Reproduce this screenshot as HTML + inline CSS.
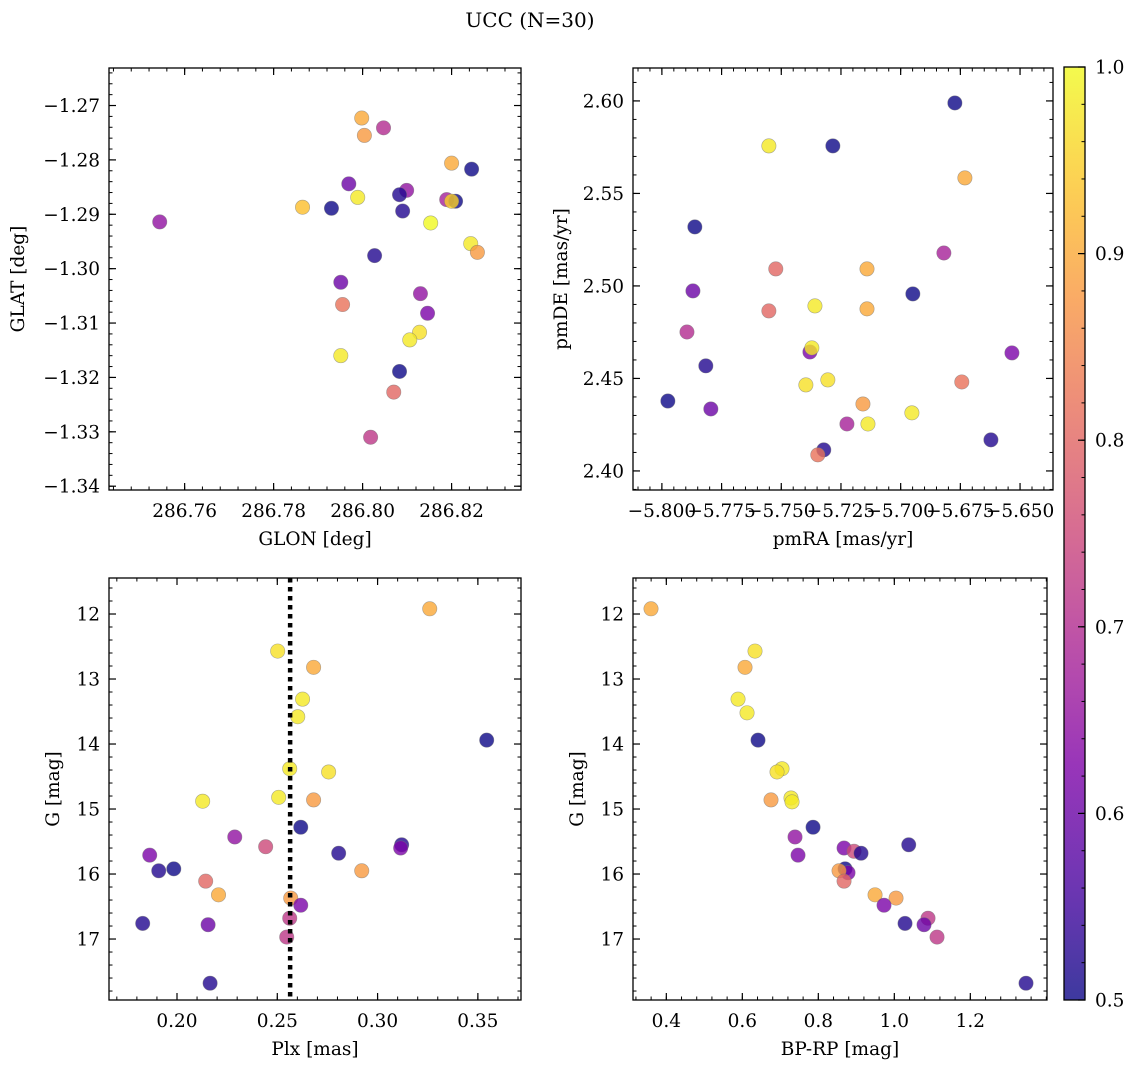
<!DOCTYPE html>
<html><head><meta charset="utf-8">
<style>
html,body{margin:0;padding:0;background:#fff;}
svg{display:block;font-family:"DejaVu Serif","Liberation Serif",serif;}
</style></head>
<body>
<svg id="fig" width="1136" height="1067" viewBox="0 0 1136 1067" xmlns="http://www.w3.org/2000/svg">
<text x="530" y="27" font-size="20" text-anchor="middle">UCC (N=30)</text>
</svg>
<script>
// Panel 1: GLON vs GLAT
const p1x=[286.7544,286.7998,286.8004,286.8047,286.8200,286.8245,286.7969,286.8099,286.8083,286.7865,286.7930,286.7989,286.8090,286.8189,286.8209,286.8200,286.8153,286.8243,286.8258,286.8027,286.7951,286.7955,286.8130,286.8146,286.8128,286.8106,286.7951,286.8083,286.8070,286.8018];
const p1y=[-1.2914,-1.2723,-1.2755,-1.2741,-1.2806,-1.2817,-1.2844,-1.2856,-1.2864,-1.2887,-1.2889,-1.2869,-1.2894,-1.2873,-1.2876,-1.2876,-1.2916,-1.2954,-1.2970,-1.2976,-1.3025,-1.3066,-1.3046,-1.3082,-1.3117,-1.3131,-1.3160,-1.3189,-1.3227,-1.3310];
const p1c=[0.65,0.9,0.88,0.7,0.9,0.5,0.6,0.65,0.52,0.93,0.5,0.98,0.52,0.68,0.5,0.95,1.0,0.98,0.88,0.52,0.6,0.82,0.65,0.62,0.97,0.98,0.98,0.5,0.8,0.72];
// Panel 2: pmRA vs pmDE
const p2x=[-5.6773,-5.7552,-5.7284,-5.6731,-5.7862,-5.7523,-5.7141,-5.6819,-5.7870,-5.6949,-5.7359,-5.7141,-5.7552,-5.7895,-5.6534,-5.7380,-5.7372,-5.7816,-5.7305,-5.7397,-5.6744,-5.7975,-5.7795,-5.7158,-5.6953,-5.6622,-5.7225,-5.7137,-5.7322,-5.7347];
const p2y=[2.5989,2.5757,2.5757,2.5584,2.5319,2.5092,2.5092,2.5178,2.4973,2.4957,2.4892,2.4876,2.4865,2.4751,2.4638,2.4643,2.4665,2.4568,2.4492,2.4465,2.4481,2.4378,2.4335,2.4362,2.4314,2.4168,2.4254,2.4254,2.4114,2.4087];
const p2c=[0.5,0.98,0.5,0.9,0.5,0.8,0.9,0.68,0.6,0.5,0.98,0.9,0.8,0.7,0.62,0.62,0.98,0.52,0.97,0.97,0.82,0.5,0.6,0.88,0.98,0.52,0.68,0.98,0.52,0.82];
// Panel 3: Plx vs G
const p3x=[0.3260,0.2502,0.2681,0.2626,0.2602,0.3544,0.2562,0.2756,0.2128,0.2507,0.2681,0.2288,0.2442,0.3120,0.3115,0.2617,0.2806,0.1864,0.1984,0.1909,0.2921,0.2143,0.2207,0.2567,0.2617,0.2562,0.1829,0.2155,0.2547,0.2165];
const p3y=[11.92,12.57,12.82,13.31,13.58,13.94,14.38,14.43,14.88,14.82,14.86,15.43,15.58,15.55,15.60,15.28,15.68,15.71,15.92,15.95,15.95,16.11,16.32,16.37,16.48,16.68,16.76,16.78,16.97,17.68];
const p3c=[0.9,0.97,0.9,0.98,0.98,0.5,0.98,0.97,0.98,0.98,0.88,0.65,0.75,0.52,0.62,0.5,0.52,0.62,0.5,0.52,0.88,0.8,0.9,0.88,0.62,0.72,0.52,0.6,0.72,0.52];
// Panel 4: BP-RP vs G
const p4x=[0.3597,0.6334,0.6071,0.5887,0.6124,0.6413,0.7045,0.6913,0.7281,0.7308,0.6755,0.7861,0.7387,1.0379,0.8677,0.8940,0.9124,0.7466,0.8704,0.8782,0.8545,0.8677,0.9493,1.0045,0.9729,1.0887,1.0282,1.0782,1.1124,1.3466];
const p4y=[11.92,12.57,12.82,13.31,13.52,13.94,14.38,14.43,14.83,14.89,14.86,15.28,15.43,15.55,15.60,15.65,15.68,15.71,15.92,15.98,15.95,16.11,16.32,16.37,16.48,16.68,16.76,16.78,16.97,17.68];
const p4c=[0.9,0.97,0.9,0.98,0.98,0.5,0.98,0.97,0.98,0.98,0.88,0.5,0.65,0.52,0.62,0.75,0.52,0.62,0.5,0.62,0.88,0.8,0.9,0.88,0.62,0.72,0.52,0.6,0.72,0.52];
const plxRef=[0.2564];
const cbTicks=[0.5,0.6,0.7,0.8,0.9,1.0];

const NS="http://www.w3.org/2000/svg";
const svg=document.getElementById('fig');
const FS=18.5;
function mk(tag,attrs,parent){const e=document.createElementNS(NS,tag);for(const k in attrs)e.setAttribute(k,attrs[k]);(parent||svg).appendChild(e);return e;}
const stops=[[0,[13,8,135]],[0.125,[75,3,161]],[0.25,[126,3,168]],[0.375,[170,35,149]],[0.5,[204,71,120]],[0.625,[230,108,92]],[0.75,[248,149,64]],[0.875,[253,196,39]],[1,[240,249,33]]];
function plasma(t){t=Math.max(0,Math.min(1,t));for(let i=1;i<stops.length;i++){if(t<=stops[i][0]){const a=stops[i-1],b=stops[i];const f=(t-a[0])/(b[0]-a[0]);return 'rgb('+a[1].map((v,j)=>Math.round(v+(b[1][j]-v)*f)).join(',')+')';}}return 'rgb(240,249,33)';}
function cnorm(v){return (v-0.5)/0.5;}

function panel(cfg){
  const g=mk('g',{});
  
  
  const {L,R,T,B}=cfg;
  const sx=v=>L+(v-cfg.x0)/(cfg.x1-cfg.x0)*(R-L);
  const sy=v=>cfg.yinv? T+(v-cfg.y0)/(cfg.y1-cfg.y0)*(B-T) : B-(v-cfg.y0)/(cfg.y1-cfg.y0)*(B-T);
  const eps=1e-9;
  for(let v=Math.ceil(cfg.x0/cfg.xmin-eps)*cfg.xmin; v<=cfg.x1+eps; v+=cfg.xmin){const x=sx(v);mk('line',{x1:x,x2:x,y1:B,y2:B-3.5,stroke:'#000','stroke-width':1},g);mk('line',{x1:x,x2:x,y1:T,y2:T+3.5,stroke:'#000','stroke-width':1},g);}
  const ylo=Math.min(cfg.y0,cfg.y1),yhi=Math.max(cfg.y0,cfg.y1);
  for(let v=Math.ceil(ylo/cfg.ymin-eps)*cfg.ymin; v<=yhi+eps; v+=cfg.ymin){const y=sy(v);mk('line',{x1:L,x2:L+3.5,y1:y,y2:y,stroke:'#000','stroke-width':1},g);mk('line',{x1:R,x2:R-3.5,y1:y,y2:y,stroke:'#000','stroke-width':1},g);}
  cfg.xt.forEach((v,i)=>{const x=sx(v);mk('line',{x1:x,x2:x,y1:B,y2:B-7,stroke:'#000','stroke-width':1.2},g);mk('line',{x1:x,x2:x,y1:T,y2:T+7,stroke:'#000','stroke-width':1.2},g);
    const t=mk('text',{x:x,y:B+27,'font-size':FS,'text-anchor':'middle'},g);t.textContent=cfg.xl[i];
    
    });
  cfg.yt.forEach((v,i)=>{const y=sy(v);mk('line',{x1:L,x2:L+7,y1:y,y2:y,stroke:'#000','stroke-width':1.2},g);mk('line',{x1:R,x2:R-7,y1:y,y2:y,stroke:'#000','stroke-width':1.2},g);
    const t=mk('text',{x:L-9,y:y+6.5,'font-size':FS,'text-anchor':'end'},g);t.textContent=cfg.yl[i];
    
    });
  cfg.px.forEach((v,i)=>{const c=mk('circle',{cx:sx(v),cy:sy(cfg.py[i]),r:7.2,fill:plasma(cnorm(cfg.pc[i])),'fill-opacity':0.8,stroke:'#777','stroke-opacity':0.6,'stroke-width':0.6},g);
    
    });
  if(cfg.vline){cfg.vline.forEach(v=>{const l=mk('line',{x1:sx(v),x2:sx(v),y1:T,y2:B,stroke:'#000','stroke-width':4.5,'stroke-dasharray':'4.5 4.5'},g);
    
    });}
  mk('rect',{x:L,y:T,width:R-L,height:B-T,fill:'none',stroke:'#000','stroke-width':1.3},g);
  const xlab=mk('text',{x:(L+R)/2,y:B+55,'font-size':FS,'text-anchor':'middle'},g);xlab.textContent=cfg.xlabel;
  
  
  const ylab=mk('text',{x:0,y:0,'font-size':FS,'text-anchor':'middle',transform:`translate(${cfg.ylx},${(T+B)/2}) rotate(-90)`},g);ylab.textContent=cfg.ylabel;
  
  
}
function fmt(a,d){return a.map(v=>(v<0?'\u2212':'')+Math.abs(v).toFixed(d));}
const p1xt=[286.76,286.78,286.80,286.82], p1yt=[-1.27,-1.28,-1.29,-1.30,-1.31,-1.32,-1.33,-1.34];
panel({name:'panel-glon-glat',L:109,R:521,T:68,B:490,x0:286.7430,x1:286.8356,y0:-1.3407,y1:-1.2631,xt:p1xt,xl:fmt(p1xt,2),yt:p1yt,yl:fmt(p1yt,2),xmin:0.004,ymin:0.002,px:p1x,py:p1y,pc:p1c,xlabel:'GLON [deg]',ylabel:'GLAT [deg]',ylx:24});
const p2xt=[-5.8,-5.775,-5.75,-5.725,-5.7,-5.675,-5.65], p2yt=[2.40,2.45,2.50,2.55,2.60];
panel({name:'panel-pmra-pmde',L:633,R:1053,T:68,B:490,x0:-5.8121,x1:-5.6362,y0:2.3897,y1:2.6178,xt:p2xt,xl:fmt(p2xt,3),yt:p2yt,yl:fmt(p2yt,2),xmin:0.005,ymin:0.01,px:p2x,py:p2y,pc:p2c,xlabel:'pmRA [mas/yr]',ylabel:'pmDE [mas/yr]',ylx:567});
const p3xt=[0.20,0.25,0.30,0.35], gyt=[12,13,14,15,16,17];
panel({name:'panel-plx-g',L:109,R:521,T:578,B:1000,yinv:true,x0:0.1661,x1:0.3715,y0:11.446,y1:17.938,xt:p3xt,xl:fmt(p3xt,2),yt:gyt,yl:fmt(gyt,0),xmin:0.01,ymin:0.2,px:p3x,py:p3y,pc:p3c,vline:plxRef,xlabel:'Plx [mas]',ylabel:'G [mag]',ylx:59});
const p4xt=[0.4,0.6,0.8,1.0,1.2];
panel({name:'panel-bprp-g',L:633,R:1047,T:578,B:1000,yinv:true,x0:0.3123,x1:1.4018,y0:11.446,y1:17.938,xt:p4xt,xl:fmt(p4xt,1),yt:gyt,yl:fmt(gyt,0),xmin:0.04,ymin:0.2,px:p4x,py:p4y,pc:p4c,xlabel:'BP-RP [mag]',ylabel:'G [mag]',ylx:583});

const cb=mk('g',{});


const defs=mk('defs',{},cb);
const lg=mk('linearGradient',{id:'cbg',x1:0,y1:1,x2:0,y2:0},defs);
for(let i=0;i<=20;i++){mk('stop',{offset:i/20,'stop-color':plasma(i/20),'stop-opacity':0.8},lg);}
const CL=1064,CR=1085,CT=67,CB=1000;
mk('rect',{x:CL,y:CT,width:CR-CL,height:CB-CT,fill:'url(#cbg)'},cb);
const cy=v=>CB-(v-0.5)/0.5*(CB-CT);
for(let v=0.5;v<=1.0001;v+=0.02){mk('line',{x1:CR,x2:CR-3.5,y1:cy(v),y2:cy(v),stroke:'#000','stroke-width':1},cb);}
cbTicks.forEach(v=>{mk('line',{x1:CR,x2:CR-7,y1:cy(v),y2:cy(v),stroke:'#000','stroke-width':1.2},cb);
  const t=mk('text',{x:CR+10,y:cy(v)+6.5,'font-size':FS},cb);t.textContent=v.toFixed(1);
  
  });
mk('rect',{x:CL,y:CT,width:CR-CL,height:CB-CT,fill:'none',stroke:'#000','stroke-width':1.3},cb);
</script>
</body></html>
